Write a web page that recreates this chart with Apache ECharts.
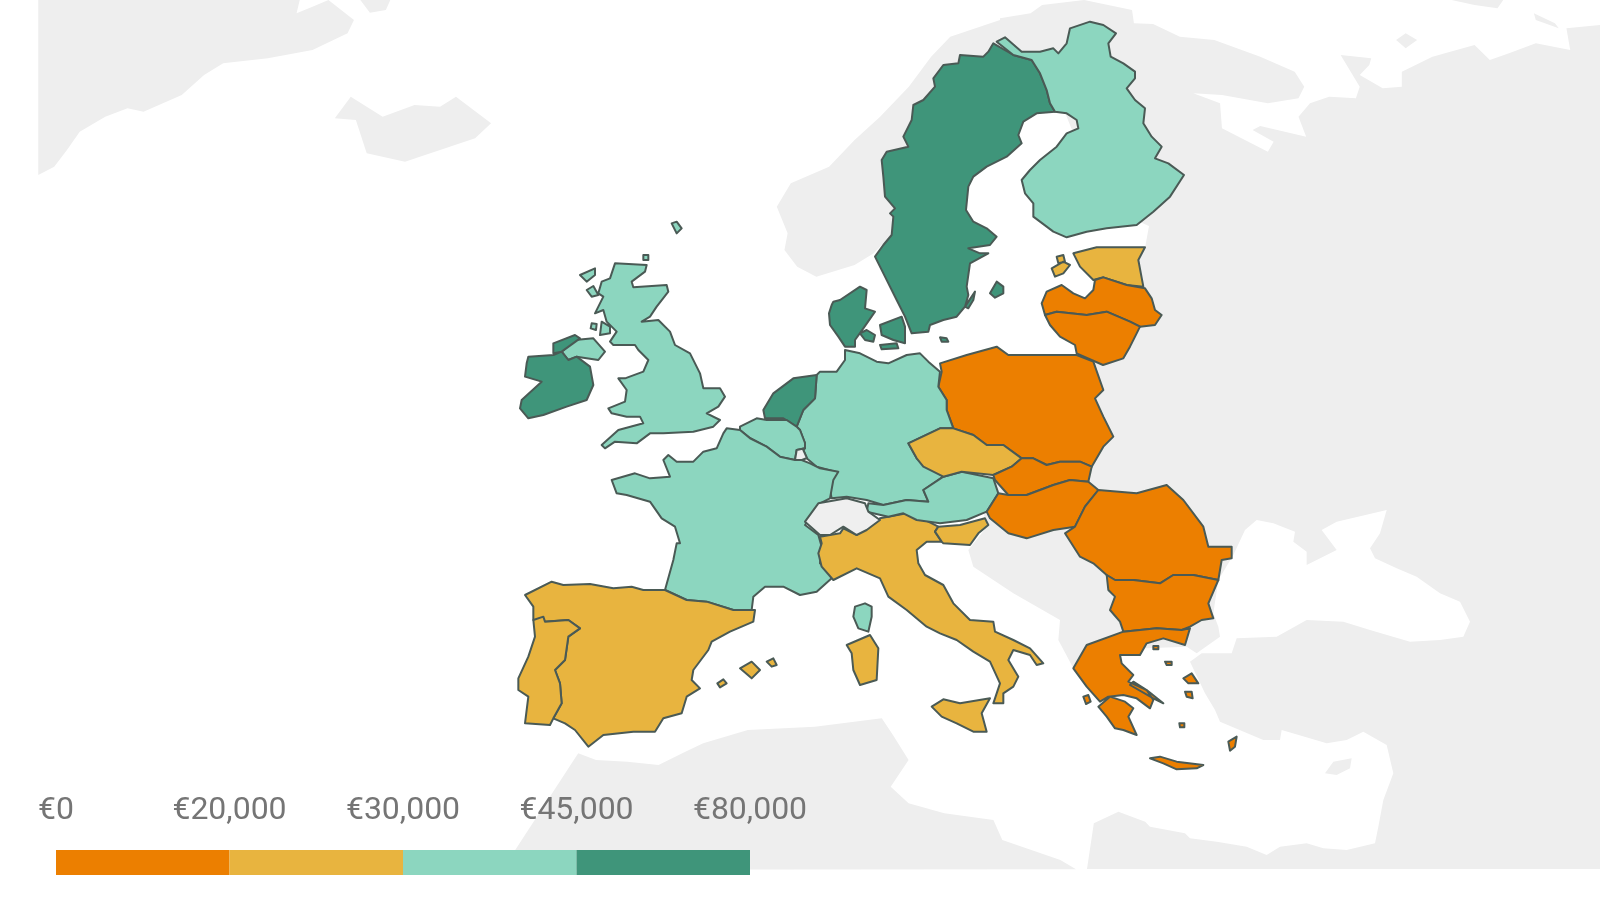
<!DOCTYPE html>
<html>
<head>
<meta charset="utf-8">
<script src="https://cdn.jsdelivr.net/npm/echarts@6/dist/echarts.min.js"></script>
<style>
html, body { margin: 0; background: #fff; }
#charts { width: 1600px; height: 900px; }
</style>
</head>
<body>
<div id="charts"></div>
<script>
// values, only the colour bin is certain
var countries = ['Sweden','Denmark','Ireland','Netherlands','Finland','United Kingdom','Germany','France','Belgium','Austria','Italy','Spain','Portugal','Czechia','Slovenia','Estonia','Poland','Hungary','Slovakia','Latvia','Lithuania','Romania','Bulgaria','Greece'];
var gdpPerHead = [52000,58000,62000,50000,42000,38000,43000,37000,40000,44000,28000,26000,21000,22000,24000,21000,14000,15000,17000,15000,16000,10000,8000,18000];
var binEdges = [0,20000,30000,45000,80000];
var binColors = ['#ec7f00','#e8b43f','#8cd6bf','#3f957a'];
var legendTicks = ['€0','€20,000','€30,000','€45,000','€80,000'];

// zoom crops the outlines were traced on: [left, top, x scale, y scale]
var Z1 = [500,200,3,3], Z2 = [840,0,3,3], Z3 = [760,330,3,3], Z4 = [500,420,3,3], Z5 = [800,500,3,3];
var Z7 = [1000,0,2.613,3], Z8 = [1130,480,3,3], Z9 = [480,680,2.24,3], Z10 = [0,0,1.568,3], PX = [0,0,1,1];

function trace(z, pts) {
    return pts.trim().split(/\s+/).map(function (p) {
        var xy = p.split(',');
        return [z[0] + xy[0] / z[2], z[1] + xy[1] / z[3]];
    });
}
function part(z, pts) {
    var ring = trace(z, pts);
    ring.push(ring[0]);
    return [ring];
}
function feature(name, parts) {
    return { type: 'Feature', properties: { name: name }, geometry: { type: 'MultiPolygon', coordinates: parts } };
}

var outlines = {
    'Sweden': [
        part(Z2, '460,130 520,165 575,180 600,220 620,270 630,310 645,335 590,340 550,365 535,405 545,430 500,470 440,500 400,530 385,560 378,630 400,665 440,685 470,710 450,735 385,745 420,760 445,760 390,790 380,860 385,885 375,920 350,950 310,960 270,975 265,995 215,1000 195,950 170,900 135,830 105,770 130,735 155,705 160,650 150,640 165,625 135,590 130,530 125,480 140,455 205,440 190,410 215,360 220,315 250,300 285,260 280,235 310,195 355,190 360,165 430,170 445,155'),
        part(Z2, '450,880 470,845 490,860 490,880 465,893'),
        part(Z2, '375,920 405,875 400,900 385,925')
    ],
    'Finland': [
        part(Z2, '470,125 495,112 545,155 600,155 640,145 655,160 680,130 690,85 750,65 790,75 828,100 805,130 812,170 850,190 885,215 885,235 860,265 885,300 915,325 910,370 935,410 965,440 945,475 985,490 1032,525 990,590 940,635 890,675 800,685 740,695 680,712 640,695 600,665 580,650 580,610 555,580 545,540 570,510 600,480 650,440 680,400 715,385 710,360 680,340 645,335 630,310 620,270 600,220 575,180 520,165')
    ],
    'Estonia': [
        part(Z2, '700,760 770,742 915,742 895,780 910,860 860,855 790,832 760,840 720,800'),
        part(Z2, '635,805 670,785 690,795 670,820 645,830'),
        part(Z2, '650,770 670,765 675,785 655,790')
    ],
    'Latvia': [
        part(Z2, '605,910 620,875 665,855 700,880 735,895 760,870 765,840 790,832 860,855 915,865 935,895 945,930 965,945 945,975 900,980 870,965 800,935 740,945 650,935 615,945')
    ],
    'Lithuania': [
        part(Z2, '615,945 650,935 740,945 800,935 870,965 900,980 890,1000 870,1040 850,1075 789,1095 710,1060 705,1035 660,1010 630,975')
    ],
    'Denmark': [
        part(Z2, '-20,905 0,900 60,860 80,870 75,925 105,935 70,985 45,1020 45,1040 15,1040 -5,1010 -30,975 -33,940 -25,915'),
        part(Z2, '60,1000 80,990 105,1005 100,1025 75,1020'),
        part(Z2, '120,975 185,950 195,980 195,1030 160,1020 125,1005'),
        part(Z2, '120,1035 170,1030 175,1045 125,1048'),
        part(Z2, '300,1012 320,1015 325,1025 305,1025')
    ],
    'Poland': [
        part(Z3, '540,100 620,75 710,50 745,75 790,75 950,75 1000,95 1030,180 1005,205 1030,260 1060,320 1030,350 995,410 960,395 900,395 860,405 820,385 785,385 730,345 680,345 640,315 580,295 560,240 560,210 535,170 545,125')
    ],
    'Germany': [
        part(Z3, '255,60 300,70 350,95 385,100 440,75 480,70 505,95 540,125 535,170 560,210 560,240 580,295 540,295 445,340 470,385 550,440 490,480 505,515 440,510 370,525 320,510 260,500 215,505 210,480 225,425 170,410 140,385 130,360 135,340 120,300 110,290 130,240 165,205 170,135 180,125 230,125 255,90')
    ],
    'Netherlands': [
        part(Z3, '40,190 100,145 170,135 165,205 130,240 110,290 70,265 15,265 10,240')
    ],
    'Belgium': [
        part(Z1, '720,690 720,680 770,655 800,660 860,660 891,681 900,690 915,729 915,745 890,750 885,780 840,771 801,741 750,714')
    ],
    'Luxembourg': [
        part(Z1, '890,750 915,745 910,750 921,774 906,780 885,780')
    ],
    'France': [
        part(Z4, '680,25 720,30 750,55 800,80 840,110 885,120 905,120 930,130 960,145 1015,155 1000,180 990,235 960,250 915,315 955,345 965,380 960,430 1000,470 950,515 900,525 850,500 795,500 760,530 755,570 700,570 620,545 560,540 495,510 520,420 530,370 540,370 525,320 485,295 450,245 380,225 350,220 335,180 405,160 450,175 510,170 490,120 505,105 530,125 580,125 610,95 650,85 670,40'),
        part(Z5, '165,320 195,310 215,320 215,350 205,395 175,385 160,350')
    ],
    'Spain': [
        part(Z4, '75,525 155,485 190,495 270,492 340,505 395,500 430,510 495,510 560,540 620,545 700,570 765,570 760,605 690,635 635,665 625,690 580,750 575,780 600,805 560,830 545,880 490,895 465,935 400,935 310,945 265,980 225,930 195,910 160,895 185,850 180,790 165,750 195,720 205,650 240,625 205,600 130,605 100,600 100,560'),
        part(Z4, '720,745 755,725 780,750 755,775'),
        part(Z4, '800,725 820,715 830,735 815,740'),
        part(Z4, '652,790 670,778 680,790 660,802')
    ],
    'Portugal': [
        part(Z4, '100,600 130,590 135,605 205,600 240,625 205,650 195,720 165,750 180,790 185,850 160,895 150,915 75,910 85,830 55,810 55,775 85,710 105,650')
    ],
    'Italy': [
        part(Z5, '60,110 120,100 130,85 170,105 240,55 320,40 385,65 415,80 405,95 425,125 380,125 350,150 355,190 375,225 430,255 460,310 510,360 580,365 585,395 640,420 690,445 730,490 710,495 690,465 640,450 625,480 655,530 640,560 610,580 610,610 580,610 600,550 570,485 520,455 470,420 420,400 380,380 320,330 265,290 240,235 170,205 100,240 65,200 55,160 65,130'),
        part(Z5, '395,620 430,598 480,610 570,595 545,640 560,695 520,695 470,670 425,650'),
        part(Z5, '140,435 210,405 235,445 230,540 180,555 160,510 155,460')
    ],
    'Slovenia': [
        part(Z5, '415,80 480,75 555,55 565,75 535,100 510,135 430,130 425,125 405,95')
    ],
    'Austria': [
        part(Z3, '505,515 490,480 550,440 605,425 700,445 715,490 680,545 620,570 540,580 470,570 430,550 385,560 320,545 325,520 370,525 440,510')
    ],
    'Czechia': [
        part(Z3, '445,340 540,295 580,295 640,315 680,345 730,345 785,385 755,410 700,435 605,425 550,440 490,410 470,385')
    ],
    'Slovakia': [
        part(Z3, '785,385 820,385 860,405 900,395 960,395 995,410 985,455 930,450 880,465 800,495 745,495 705,450 700,435 755,410')
    ],
    'Hungary': [
        part(Z3, '745,495 800,495 880,465 930,450 985,455 1015,480 975,530 945,590 880,600 800,625 745,610 690,565 680,545 715,490')
    ],
    'Romania': [
        part(Z3, '1015,480 1130,490 1220,465 1270,510 1330,590 1345,650 1415,650 1415,685 1385,690 1375,750 1300,735 1240,735 1200,760 1120,750 1065,750 1040,735 1000,700 960,680 915,610 945,590 975,530')
    ],
    'Bulgaria': [
        part(Z5, '920,225 945,240 1000,240 1080,250 1120,225 1180,225 1255,240 1225,310 1240,355 1205,360 1170,380 1145,390 1070,385 970,395 960,365 930,330 945,290 925,270')
    ],
    'Greece': [
        part(Z5, '970,395 1070,385 1145,390 1170,385 1155,435 1090,415 1040,430 1020,465 960,465 965,490 1000,525 985,545 1040,570 1060,600 1050,625 1010,595 970,585 925,590 900,605 860,560 820,505 860,435'),
        part(Z5, '895,620 930,590 975,605 1000,625 985,650 1010,705 970,690 945,685 920,650'),
        part(Z5, '1000,545 1040,570 1090,610 1060,595 990,555'),
        part(Z5, '1050,775 1080,770 1130,785 1210,795 1190,805 1130,808 1090,790'),
        part(Z5, '1150,535 1175,520 1195,550 1165,550'),
        part(Z5, '1095,485 1115,485 1115,495 1100,495'),
        part(Z5, '1060,438 1075,438 1075,448 1060,448'),
        part(Z5, '1155,575 1175,575 1178,595 1160,590'),
        part(Z5, '850,590 865,585 872,605 858,612'),
        part(Z5, '1138,670 1153,670 1153,682 1140,682'),
        part(Z5, '1285,725 1310,710 1305,740 1290,752')
    ],
    'United Kingdom': [
        part(Z1, '345,190 440,195 435,215 395,245 400,262 500,255 505,275 470,320 450,350 425,365 475,360 510,395 525,435 570,460 600,520 610,565 660,565 675,590 655,620 620,640 660,660 640,680 580,695 490,700 450,700 410,730 345,725 315,745 305,735 355,690 430,670 420,650 380,650 335,640 325,625 375,605 380,570 355,535 375,535 430,515 445,480 415,450 405,435 340,435 330,425 350,395 320,365 310,330 285,340 310,290 295,280 305,245 330,235'),
        part(Z1, '185,455 225,420 280,415 315,455 295,480 230,470 205,480'),
        part(Z1, '240,225 285,205 285,225 260,245'),
        part(Z1, '260,270 280,258 295,285 275,290'),
        part(Z1, '515,70 530,65 545,85 530,100'),
        part(Z1, '430,165 445,165 445,180 430,180'),
        part(Z1, '275,370 290,372 288,390 272,385'),
        part(Z1, '305,365 330,380 330,400 300,405')
    ],
    'Ireland': [
        part(Z1, '85,470 160,465 185,455 205,480 230,470 270,500 280,555 260,600 200,620 130,645 85,655 60,625 65,600 125,545 75,530 80,490'),
        part(Z1, '160,430 225,405 240,415 185,455 160,460')
    ],
    'Switzerland': [
        part(Z3, '135,575 175,520 260,505 315,520 325,545 360,570 320,600 290,615 250,590 210,615 180,615')
    ]
};

// grey land under the EU shapes, its hidden edges run inside the countries above
var mainland = [].concat(
    trace(PX, '1100,200 1060,100 1020,80 960,150 893,233'),
    trace(Z10, '1370,760 1340,795 1280,830 1250,800 1230,750 1235,700 1218,620 1240,550 1300,500 1340,420 1380,350 1425,260 1460,170 1490,110 1568,60'),
    trace(Z7, '0,55 80,40 110,15 220,0 345,30 350,70 400,72 470,110 560,120 680,170 770,215 795,260 780,295 700,310 580,285 505,280 575,310 580,385 640,420 700,455 715,425 660,390 680,378 800,410 780,350 810,310 860,290 930,295 940,260 890,165 970,175 965,195 940,225 1000,265 1050,260 1050,215 1130,170 1240,135 1280,180 1330,160 1400,130 1490,150 1480,85 1568,75'),
    trace(PX, '1600,869 1087,869'),
    trace(Z9, '1375,430 1430,395 1490,425'),
    trace(Z8, '60,1040 165,1060 180,1075 260,1085 350,1100 410,1125 450,1100 530,1090 580,1105 650,1110 735,1090 745,1040 760,960 790,880 770,795 700,755 650,780 590,790 455,750 450,780 400,780 270,725 255,690 225,640 180,545 215,520 305,520 320,475 440,470 530,420 640,425 720,450 840,485 930,480 1000,470 1020,425 990,365 930,340 860,290 800,265 735,235 720,205 750,160 770,90 620,125 575,150 620,210 530,255 530,215 490,185 495,155 430,130 380,120 345,150 310,225 265,300 250,400 265,440 270,470 200,520 170,500'),
    trace(Z5, '900,450 820,505 775,420 780,360 640,280 520,200 505,150 565,75 545,30'),
    trace(PX, '1000,440 1070,375 1110,345 1110,300 1120,265 1145,248 1149,226 1140,222')
);
mainland.push(mainland[0]);

var landParts = [
    [mainland],
    part(Z10, '60,0 470,0 465,40 490,20 515,0 555,60 545,100 490,150 420,175 350,190 320,225 285,285 225,335 200,325 165,350 125,395 105,450 85,500 60,525'),
    part(Z10, '565,0 612,0 605,30 580,38'),
    part(Z10, '525,355 550,290 600,350 650,315 690,320 715,290 770,370 745,415 635,485 575,460 558,360'),
    part(Z9, '50,569 220,220 260,240 330,245 400,255 460,215 500,190 600,150 750,140 900,115 925,165 960,240 920,320 960,370 1040,400 1150,420 1170,480 1300,540 1335,568'),
    part(Z7, '1395,40 1450,70 1460,85 1400,60'),
    part(Z7, '1180,0 1315,0 1300,25 1240,15'),
    part(Z7, '1035,120 1060,100 1090,120 1060,145'),
    part(Z8, '585,880 610,845 665,835 660,865 620,885')
];

echarts.registerMap('land', { type: 'FeatureCollection', features: [feature('land', landParts)] });
echarts.registerMap('eu', { type: 'FeatureCollection', features: Object.keys(outlines).map(function (name) {
    return feature(name, outlines[name]);
}) });

var flat = { project: function (p) { return p; }, unproject: function (p) { return p; } };
var frame = [[0, 0], [1600, 900]];

var myChart = echarts.init(document.getElementById('charts'));
var option = {
    animation: false,
    backgroundColor: '#fff',
    grid: { left: 56, top: 850, width: 694, height: 25 },
    xAxis: {
        type: 'category',
        position: 'top',
        boundaryGap: false,
        data: legendTicks,
        axisLine: { show: false },
        axisTick: { show: false },
        axisLabel: {
            interval: 0,
            margin: 23,
            color: '#757575',
            fontFamily: 'Roboto',
            fontSize: 32
        }
    },
    yAxis: { type: 'value', show: false },
    visualMap: {
        type: 'piecewise',
        orient: 'horizontal',
        left: 56,
        top: 850,
        padding: 0,
        itemWidth: 173.5,
        itemHeight: 25,
        itemGap: 0,
        itemSymbol: 'rect',
        showLabel: false,
        selectedMode: false,
        seriesIndex: 0,
        pieces: binColors.map(function (c, i) {
            return { min: binEdges[i], max: binEdges[i + 1], color: c };
        })
    },
    geo: {
        map: 'land',
        projection: flat,
        boundingCoords: frame,
        left: 0, top: 0, width: 1600, height: 900,
        silent: true,
        itemStyle: { areaColor: '#eeeeee', borderWidth: 0 }
    },
    series: [
        {
            name: 'GDP per head',
            type: 'map',
            map: 'eu',
            projection: flat,
            boundingCoords: frame,
            left: 0, top: 0, width: 1600, height: 900,
            silent: true,
            itemStyle: { areaColor: '#efefef', borderColor: '#4a5a55', borderWidth: 2, borderJoin: 'round' },
            data: countries.map(function (name, i) {
                return { name: name, value: gdpPerHead[i] };
            })
        }
    ]
};
myChart.setOption(option);
</script>
</body>
</html>
